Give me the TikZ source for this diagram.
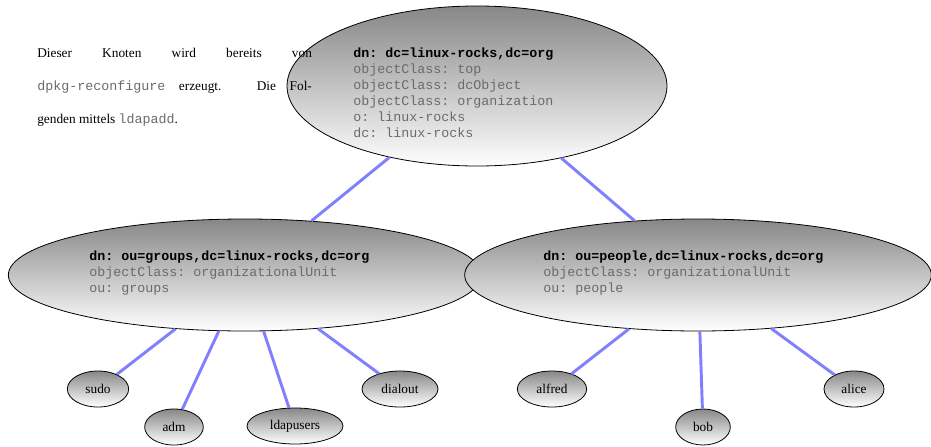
\documentclass[tikz,border=0pt]{standalone}
\usepackage{fontspec}
\setmainfont{Liberation Serif}
\setmonofont{Liberation Mono}
\usetikzlibrary{shapes.geometric}
\definecolor{attr}{gray}{0.42}
\definecolor{edgeblue}{RGB}{128,128,255}
\tikzset{
  ell/.style={ellipse, draw=black, line width=0.6pt, inner sep=0pt,
    top color=black!47, bottom color=white},
  leaf/.style={ell, minimum height=27pt, font=\fontsize{10}{12}\selectfont},
  conn/.style={draw=edgeblue, line width=2.2pt},
  ldif/.style={anchor=north west, align=left, inner sep=0pt,
    font=\ttfamily\fontsize{10}{12}\selectfont, text=attr},
}
\newcommand{\dnline}[1]{\textcolor{black}{\bfseries #1}}
\begin{document}
\begin{tikzpicture}[x=0.75pt,y=-0.75pt]
\useasboundingbox (0,0) rectangle (931,446);
% big nodes
\node[ell, minimum width=285pt, minimum height=120pt] (root) at (477,86) {};
\node[ell, minimum width=355pt, minimum height=84pt] (groups) at (245,275) {};
\node[ell, minimum width=350pt, minimum height=84pt] (people) at (698,275) {};
% leaves
\node[leaf, minimum width=46pt] (sudo) at (98,389) {sudo};
\node[leaf, minimum width=44pt] (adm) at (174,427) {adm};
\node[leaf, minimum width=72pt] (ldapusers) at (295,426) {ldapusers};
\node[leaf, minimum width=57pt] (dialout) at (400,389) {dialout};
\node[leaf, minimum width=52pt] (alfred) at (552,389) {alfred};
\node[leaf, minimum width=41pt] (bob) at (703,427) {bob};
\node[leaf, minimum width=45pt] (alice) at (854,389) {alice};
% connectors
\draw[conn] (root) -- (groups);
\draw[conn] (root) -- (people);
\draw[conn] (groups) -- (sudo);
\draw[conn] (groups) -- (adm);
\draw[conn] (groups) -- (ldapusers);
\draw[conn] (groups) -- (dialout);
\draw[conn] (people) -- (alfred);
\draw[conn] (people) -- (bob);
\draw[conn] (people) -- (alice);
% texts
\node[ldif] (roottext) at (353,48) {\dnline{dn: dc=linux-rocks,dc=org}\\objectClass: top\\objectClass: dcObject\\objectClass: organization\\o: linux-rocks\\dc: linux-rocks};
\node[ldif] (groupstext) at (89,251) {\dnline{dn: ou=groups,dc=linux-rocks,dc=org}\\objectClass: organizationalUnit\\ou: groups};
\node[ldif] (peopletext) at (543,251) {\dnline{dn: ou=people,dc=linux-rocks,dc=org}\\objectClass: organizationalUnit\\ou: people};
\node[anchor=north west, inner sep=0pt, text width=206pt, align=justify,
  font=\fontsize{10}{24.75}\selectfont] (para) at (37,48)
  {Dieser Knoten wird bereits von\linebreak
   \textcolor{attr}{\texttt{dpkg-reconfigure}} erzeugt. Die Fol-\linebreak
   genden mittels \textcolor{attr}{\texttt{ldapadd}}.};
\end{tikzpicture}
\end{document}
